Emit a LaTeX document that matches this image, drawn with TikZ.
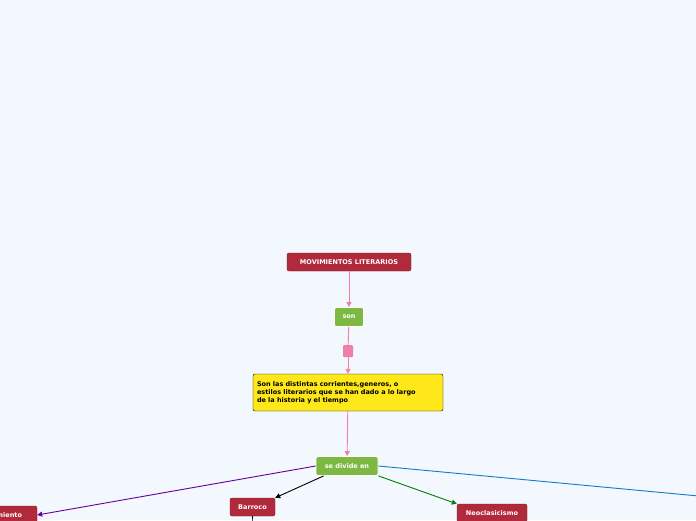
\documentclass[tikz,border=0pt]{standalone}
\usepackage{fontspec}
\setmainfont{DejaVu Sans}
\usetikzlibrary{arrows.meta}
\definecolor{bg}{HTML}{F3F7FE}
\definecolor{redn}{HTML}{B02A3B}
\definecolor{greenn}{HTML}{7DB942}
\definecolor{pinkc}{HTML}{F07FA8}
\definecolor{yel}{HTML}{FFE81A}
\tikzset{
 redbox/.style={draw=redn!70!black,fill=redn,rounded corners=2pt,text=white,font=\bfseries\fontsize{6.5}{7}\selectfont,inner sep=0pt,minimum height=18pt},
 greenbox/.style={draw=white,line width=0.8pt,fill=greenn,rounded corners=2pt,text=white,font=\bfseries\fontsize{6.5}{7}\selectfont,inner sep=0pt,minimum height=19pt},
 conn/.style={line width=0.9pt,-{Triangle[length=5pt,width=5pt]}}
}
\begin{document}
\begin{tikzpicture}[x=1pt,y=-1pt]
\fill[bg] (0,0) rectangle (696,520);
\useasboundingbox (0,0) rectangle (696,520);
\clip (0,0) rectangle (696,520);
\node[redbox,minimum width=124pt] (mov) at (349,262) {MOVIMIENTOS LITERARIOS};
\node[greenbox,minimum width=29pt] (son) at (349,317) {son};
\node[fill=pinkc,rounded corners=1pt,minimum width=10pt,minimum height=12pt,inner sep=0pt] (pk) at (348,351) {};
\node[draw=black,fill=yel,rounded corners=2pt,minimum width=190pt,minimum height=37pt,text width=182pt,align=left,inner sep=0pt,font=\bfseries\fontsize{6.5}{8}\selectfont] (def) at (348,392.5) {Son las distintas corrientes,generos, o\\estilos literarios que se han dado a lo largo\\de la historia y el tiempo};
\node[greenbox,minimum width=62pt] (div) at (347,466) {se divide en};
\node[redbox,minimum width=80pt] (ren) at (-3,515) {Renacimiento};
\node[redbox,minimum width=45pt] (bar) at (252.5,507) {Barroco};
\node[redbox,minimum width=70pt] (neo) at (492,513) {Neoclasicismo};
\coordinate (rt) at (720,498);
\coordinate (bd) at (252,540);
\draw[conn,pinkc] (mov) -- (son);
\draw[line width=0.9pt,pinkc] (son) -- (pk);
\draw[conn,pinkc] (pk) -- (def);
\draw[conn,pinkc] (def) -- (div);
\draw[conn,violet!80!blue] (div.west) -- (ren.east);
\draw[conn,black] (div.south west)++(8,0) -- (bar.north east);
\draw[conn,green!50!black] (div.south east) -- (neo.north west);
\draw[line width=0.9pt,cyan!60!blue] (div.east) -- (rt);
\draw[line width=0.6pt,black] (bar.south) -- (bd);
\end{tikzpicture}
\end{document}
